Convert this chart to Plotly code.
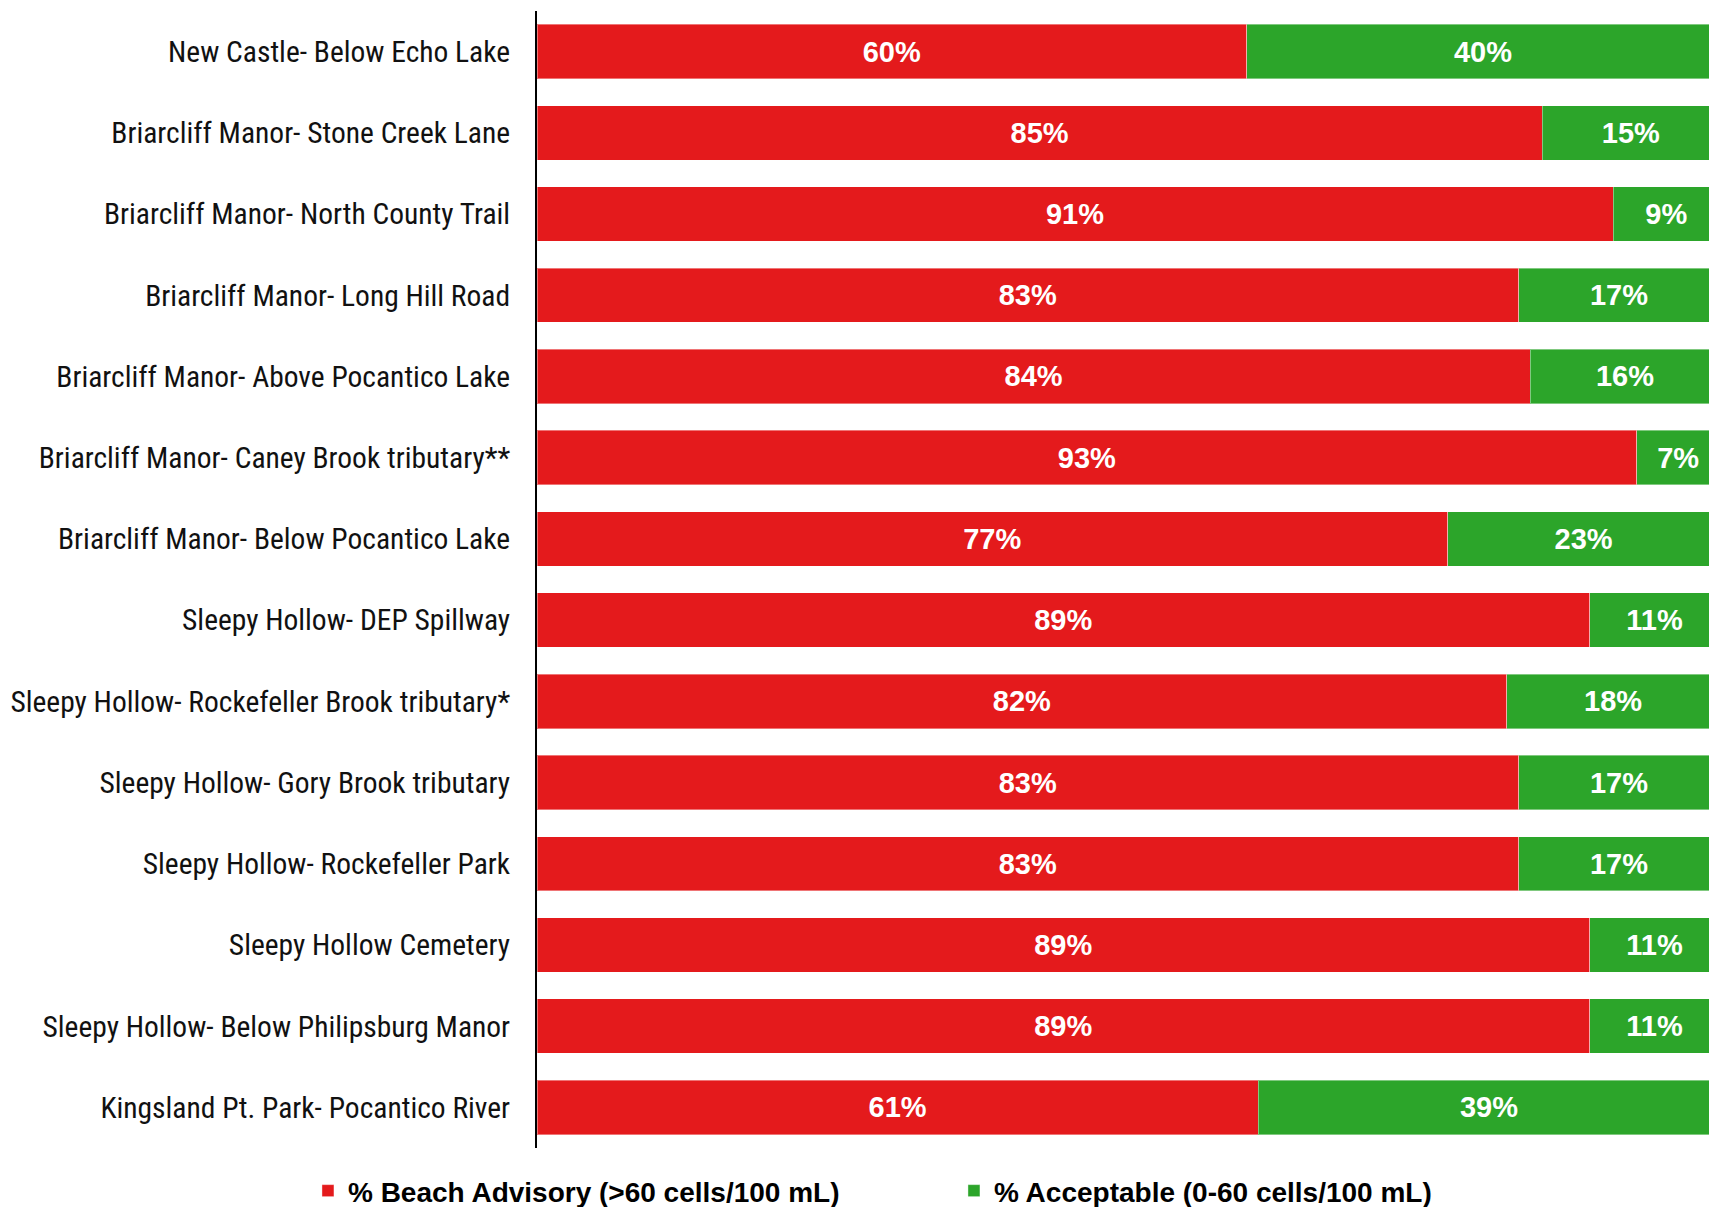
import plotly.graph_objects as go

sites = [
    "New Castle- Below Echo Lake",
    "Briarcliff Manor- Stone Creek Lane",
    "Briarcliff Manor- North County Trail",
    "Briarcliff Manor- Long Hill Road",
    "Briarcliff Manor- Above Pocantico Lake",
    "Briarcliff Manor- Caney Brook tributary**",
    "Briarcliff Manor- Below Pocantico Lake",
    "Sleepy Hollow- DEP Spillway",
    "Sleepy Hollow- Rockefeller Brook tributary*",
    "Sleepy Hollow- Gory Brook tributary",
    "Sleepy Hollow- Rockefeller Park",
    "Sleepy Hollow Cemetery",
    "Sleepy Hollow- Below Philipsburg Manor",
    "Kingsland Pt. Park- Pocantico River",
]
advisory = [60, 85, 91, 83, 84, 93, 77, 89, 82, 83, 83, 89, 89, 61]
acceptable = [40, 15, 9, 17, 16, 7, 23, 11, 18, 17, 17, 11, 11, 39]

RED = "#e41a1c"
GREEN = "#2ca52a"
LABEL_FONT = dict(color="white", size=29, family="Liberation Sans, Arial, sans-serif", weight="bold")

fig = go.Figure()
fig.add_trace(go.Bar(
    y=sites, x=advisory, orientation="h", name="% Beach Advisory (>60 cells/100 mL)",
    marker=dict(color=RED, line=dict(color="rgba(255,255,255,0.4)", width=1)),
    text=[f"{v}%" for v in advisory], textposition="inside", insidetextanchor="middle",
    textangle=0, textfont=LABEL_FONT, legend="legend",
))
fig.add_trace(go.Bar(
    y=sites, x=acceptable, orientation="h", name="% Acceptable (0-60 cells/100 mL)",
    marker=dict(color=GREEN, line=dict(color="rgba(255,255,255,0.4)", width=1)),
    text=[f"{v}%" for v in acceptable], textposition="inside", insidetextanchor="middle",
    textangle=0, textfont=LABEL_FONT, legend="legend2",
))

legend_common = dict(
    orientation="h", xref="container", yref="container",
    xanchor="left", yanchor="middle", bgcolor="rgba(0,0,0,0)",
    font=dict(family="Liberation Sans, Arial, sans-serif", size=28, color="black", weight="bold"),
)

fig.update_layout(
    width=1709, height=1207,
    barmode="stack", bargap=0.33,
    plot_bgcolor="white", paper_bgcolor="white",
    margin=dict(l=537, r=0, t=11, b=59, autoexpand=False),
    showlegend=True,
    legend=dict(x=0.1802, y=0.0133, **legend_common),
    legend2=dict(x=0.5582, y=0.0133, **legend_common),
    xaxis=dict(visible=False, range=[0, 99.1]),
    yaxis=dict(
        autorange="reversed", showline=True, linecolor="black", linewidth=2,
        ticks="", showgrid=False, ticklabelstandoff=19, automargin=False,
        tickfont=dict(family="Roboto Condensed, Liberation Sans", size=29.5, color="#111111"),
    ),
)

fig.write_html(
    "out.html",
    config={"displayModeBar": False},
    post_script="document.body.style.margin='0';document.body.style.overflow='hidden';",
)
